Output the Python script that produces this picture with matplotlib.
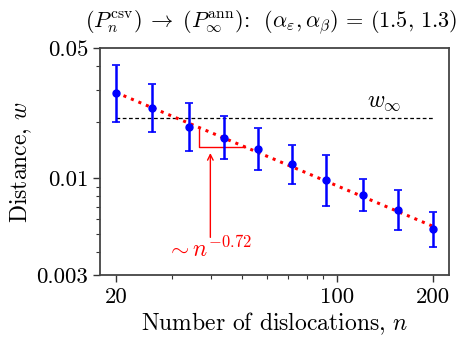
import numpy as np
import matplotlib
matplotlib.use("Agg")
import matplotlib.pyplot as plt
from matplotlib.ticker import FixedLocator, NullFormatter, FixedFormatter

plt.rcParams['font.family'] = ['cmr10', 'DejaVu Serif']
plt.rcParams['mathtext.fontset'] = 'cm'
plt.rcParams['axes.unicode_minus'] = False
plt.rcParams['axes.formatter.use_mathtext'] = True

# data
n_values = [20, 26, 34, 44, 56, 72, 92, 120, 155, 200]
w_mean = [0.0286, 0.0239, 0.0188, 0.0165, 0.01435, 0.01187, 0.00977, 0.00814, 0.00676, 0.00532]
w_upper = [0.0408, 0.0322, 0.0255, 0.0215, 0.0186, 0.0151, 0.01337, 0.00985, 0.00866, 0.00659]
w_lower = [0.0200, 0.0177, 0.0140, 0.0126, 0.01105, 0.00933, 0.00710, 0.00667, 0.00525, 0.00427]
w_inf = 0.0210
fit_coef = 0.25
fit_exp = -0.72
tri_n = [36.5, 51.0]
x_major = [20, 100, 200]
x_minor = [30, 40, 50, 60, 70, 80, 90]
y_major = [0.003, 0.01, 0.05]
y_major_labels = ['0.003', '0.01', '0.05']
y_minor = [0.004, 0.005, 0.006, 0.007, 0.008, 0.009, 0.02, 0.03, 0.04]

n = np.array(n_values, dtype=float)
w = np.array(w_mean)
yerr = np.vstack([w - np.array(w_lower), np.array(w_upper) - w])

fig = plt.figure(figsize=(4.71, 3.41), dpi=100)
ax = fig.add_axes([0.2123, 0.1927, 0.7410, 0.6657])
ax.set_xscale('log')
ax.set_yscale('log')

ax.plot([n[0], n[-1]], [w_inf, w_inf], '--', color='black', lw=0.9, dashes=(3, 2))
ax.text(159, w_inf * 1.07, r'$w_\infty$', fontsize=17, ha='right', va='bottom')

fit_n = np.geomspace(n[0], n[-1], 200)
ax.plot(fit_n, fit_coef * fit_n ** fit_exp, ':', color='red', lw=2.2, zorder=3)

ax.errorbar(n, w, yerr=yerr, fmt='o', color='blue', ms=5, lw=1.8,
            capsize=3, capthick=1.2, ecolor='blue', zorder=4)

f1 = fit_coef * tri_n[0] ** fit_exp
f2 = fit_coef * tri_n[1] ** fit_exp
ax.plot([tri_n[0], tri_n[0], tri_n[1]], [f1, f2, f2], '-', color='red', lw=1.0, zorder=3)

ax.annotate('', xy=(39.7, 0.01365), xytext=(39.7, 0.0048),
            arrowprops=dict(arrowstyle='->', color='red', lw=1.0, shrinkA=0, shrinkB=0))
ax.text(39.4, 0.00376, r'$\sim n^{-0.72}$', color='red', fontsize=17,
        ha='center', va='baseline')

ax.set_xlim(17.8, 225)
ax.set_ylim(0.003, 0.05)

ax.xaxis.set_major_locator(FixedLocator(x_major))
ax.xaxis.set_major_formatter(FixedFormatter([str(v) for v in x_major]))
ax.xaxis.set_minor_locator(FixedLocator(x_minor))
ax.xaxis.set_minor_formatter(NullFormatter())
ax.yaxis.set_major_locator(FixedLocator(y_major))
ax.yaxis.set_major_formatter(FixedFormatter(y_major_labels))
ax.yaxis.set_minor_locator(FixedLocator(y_minor))
ax.yaxis.set_minor_formatter(NullFormatter())

ax.tick_params(which='major', direction='out', length=5, width=1.0, labelsize=16.5, color='#333333')
ax.tick_params(which='minor', direction='out', length=3, width=0.8, color='#333333')
for s in ax.spines.values():
    s.set_color('#444444')
    s.set_linewidth(1.3)

ax.set_xlabel('Number of dislocations, $n$', fontsize=17, labelpad=3)
ax.set_ylabel('Distance, $w$', fontsize=17, labelpad=2)
fig.text(0.575, 0.92,
         r'$(P_n^{\mathrm{csv}})\; \rightarrow\; (P_\infty^{\mathrm{ann}})$:  $(\alpha_\varepsilon, \alpha_\beta)\, =\, (1.5,\, 1.3)$',
         fontsize=16, ha='center', va='baseline')

fig.savefig('out.png', dpi=100)
